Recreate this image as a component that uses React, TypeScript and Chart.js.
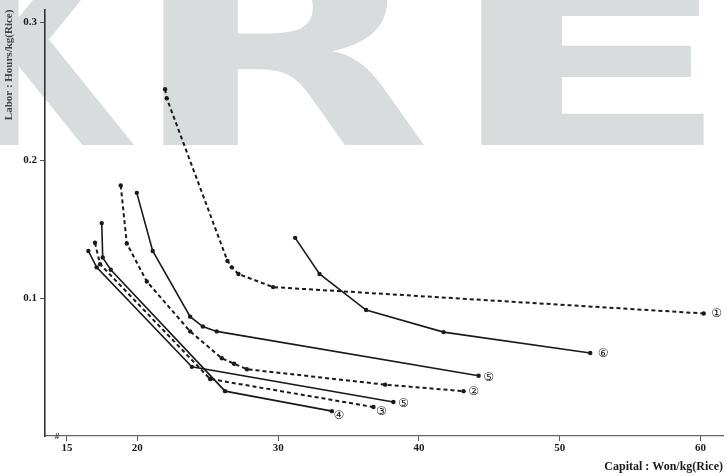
import React, { useEffect, useRef } from "react";
import { Chart, registerables } from "chart.js";

Chart.register(...registerables);

// Axis ticks
const xTicks = [15, 20, 30, 40, 50, 60];
const yTicks = [0.1, 0.2, 0.3];

// Series: capital (Won/kg) and labor (Hours/kg)
const cap1 = [21.97, 22.09, 26.4, 26.71, 27.18, 29.64, 60.23];
const lab1 = [0.2513, 0.2447, 0.1269, 0.1222, 0.1174, 0.1079, 0.0888];

const cap6 = [31.21, 32.94, 36.25, 41.75, 52.17];
const lab6 = [0.1436, 0.1174, 0.0913, 0.0753, 0.0601];

const cap5a = [19.96, 21.09, 23.75, 24.65, 25.64, 44.24];
const lab5a = [0.1762, 0.1341, 0.0865, 0.0793, 0.0758, 0.0437];

const cap2 = [18.82, 19.25, 20.67, 23.75, 26.0, 26.87, 27.78, 37.6, 43.17];
const lab2 = [0.1816, 0.1395, 0.112, 0.0758, 0.0563, 0.0524, 0.0484, 0.0372, 0.0325];

const cap5b = [16.52, 17.11, 23.87, 38.19];
const lab5b = [0.1341, 0.1222, 0.0501, 0.0246];

const cap3 = [16.99, 17.35, 25.17, 36.77];
const lab3 = [0.14, 0.1245, 0.0413, 0.021];

const cap4 = [17.47, 17.54, 18.11, 26.23, 33.82];
const lab4 = [0.1543, 0.1293, 0.1205, 0.0325, 0.018];

const seriesNames = ["①", "⑥", "⑤", "②", "⑤", "③", "④"];
const seriesCap = [cap1, cap6, cap5a, cap2, cap5b, cap3, cap4];
const seriesLab = [lab1, lab6, lab5a, lab2, lab5b, lab3, lab4];
const seriesDashed = [true, false, false, true, false, true, false];
const labelOffsets = [
  [13, 0],
  [13, 1],
  [10, 2],
  [10, 1],
  [10, 2],
  [8, 5],
  [7, 5],
];

const INK = "#1a1a1a";
const SERIF = '"Liberation Serif", "DejaVu Serif", serif';

const watermark = {
  id: "watermark",
  beforeDraw(chart: any) {
    const ctx = chart.ctx;
    ctx.save();
    ctx.fillStyle = "#ffffff";
    ctx.fillRect(0, 0, chart.width, chart.height);
    ctx.fillStyle = "#d9dcdc";
    ctx.font = 'bold 220px "DejaVu Sans"';
    ctx.textBaseline = "alphabetic";
    const letters: [string, number, number, number][] = [
      ["K", -43, 1.0, 1.25],
      ["R", 127, 1.8, 1.25],
      ["E", 442, 1.95, 1.0],
    ];
    letters.forEach(([ch, x0, sx, sy]) => {
      ctx.save();
      ctx.translate(x0, 145);
      ctx.scale(sx, sy);
      ctx.fillText(ch, 0, 0);
      ctx.restore();
    });
    ctx.restore();
  },
};

const endLabels = {
  id: "endLabels",
  afterDatasetsDraw(chart: any) {
    const ctx = chart.ctx;
    ctx.save();
    ctx.fillStyle = INK;
    ctx.font = `12px "DejaVu Sans", "Noto Sans CJK KR", sans-serif`;
    ctx.textAlign = "center";
    ctx.textBaseline = "middle";
    chart.data.datasets.forEach((ds: any, i: number) => {
      const meta = chart.getDatasetMeta(i);
      const last = meta.data[meta.data.length - 1];
      if (!last) return;
      const [dx, dy] = labelOffsets[i];
      ctx.fillText(seriesNames[i], last.x + dx, last.y + dy);
    });
    // axis break mark on the x axis
    const xs = chart.scales.x;
    ctx.font = `bold 9px ${SERIF}`;
    ctx.fillStyle = "#333";
    ctx.fillText("#", xs.left + 12, xs.top + 1);
    ctx.restore();
  },
};

export default function App() {
  const ref = useRef<HTMLCanvasElement | null>(null);

  useEffect(() => {
    if (!ref.current) return;
    const datasets = seriesCap.map((caps, i) => ({
      label: seriesNames[i],
      data: caps.map((c, j) => ({ x: c, y: seriesLab[i][j] })),
      borderColor: INK,
      backgroundColor: INK,
      borderWidth: seriesDashed[i] ? 2 : 1.6,
      borderDash: seriesDashed[i] ? [4, 3] : [],
      pointRadius: 2.2,
      pointBackgroundColor: INK,
      pointBorderColor: INK,
      pointBorderWidth: 0,
      showLine: true,
      tension: 0,
      fill: false,
    }));

    const chart = new Chart(ref.current, {
      type: "scatter",
      data: { datasets },
      plugins: [watermark, endLabels],
      options: {
        responsive: false,
        animation: false,
        layout: { padding: { top: 3, right: 4, left: 0, bottom: 0 } },
        plugins: {
          legend: { display: false },
          tooltip: { enabled: false },
        },
        scales: {
          x: {
            type: "linear",
            min: 13.44,
            max: 61.6,
            afterBuildTicks: (s: any) => {
              s.ticks = xTicks.map((v) => ({ value: v }));
            },
            afterFit: (s: any) => {
              s.height = 40;
            },
            grid: {
              display: true,
              drawOnChartArea: false,
              drawTicks: true,
              tickLength: 5,
              color: "#555",
            },
            border: { display: true, color: "#666", width: 1.2 },
            ticks: {
              color: INK,
              font: { family: SERIF, size: 11, weight: "bold" },
              padding: 1,
              maxRotation: 0,
              autoSkip: false,
              callback: (v: any) => String(v),
            },
            title: {
              display: true,
              text: "Capital : Won/kg(Rice)",
              align: "end",
              color: INK,
              font: { family: SERIF, size: 12, weight: "bold" },
              padding: { top: 0, bottom: 2 },
            },
          },
          y: {
            type: "linear",
            min: 0,
            max: 0.309,
            afterBuildTicks: (s: any) => {
              s.ticks = yTicks.map((v) => ({ value: v }));
            },
            afterFit: (s: any) => {
              s.width = 45;
            },
            grid: {
              display: true,
              drawOnChartArea: false,
              drawTicks: true,
              tickLength: 5,
              color: "#555",
            },
            border: { display: true, color: "#333", width: 1.6 },
            ticks: {
              color: INK,
              font: { family: SERIF, size: 11, weight: "bold" },
              padding: 3,
              callback: (v: any) => Number(v).toFixed(1),
            },
            title: {
              display: true,
              text: "Labor : Hours/kg(Rice)",
              align: "end",
              color: "#444",
              font: { family: SERIF, size: 11, weight: "bold" },
              padding: { top: 3, bottom: 0 },
            },
          },
        },
      } as any,
    });
    return () => chart.destroy();
  }, []);

  return (
    <canvas
      ref={ref}
      width={727}
      height={476}
      style={{ position: "fixed", left: 0, top: 0, width: 727, height: 476 }}
    />
  );
}
